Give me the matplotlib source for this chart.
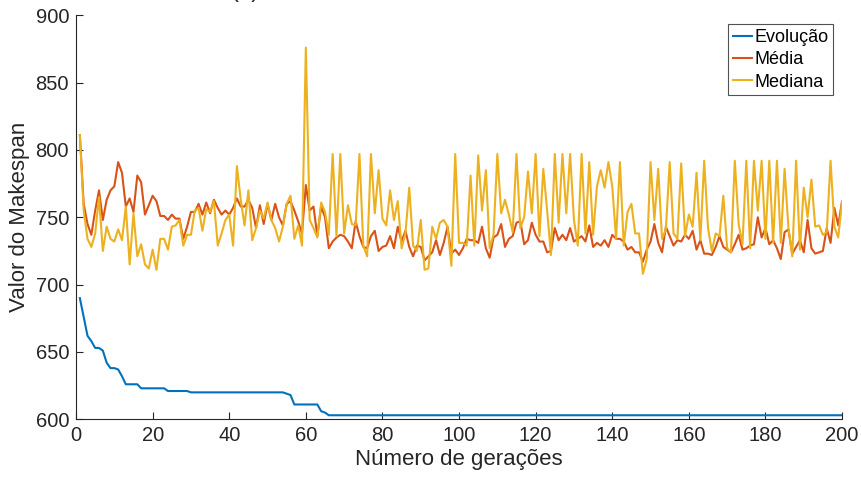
import matplotlib
matplotlib.use("Agg")
import matplotlib.pyplot as plt
import numpy as np

plt.rcParams['font.family'] = ['Liberation Sans', 'DejaVu Sans']

# Generations 1..200
geracoes = list(range(1, 201))

# Best makespan found so far
evolucao = [
    690, 676, 662, 658, 653, 653, 651, 642, 638, 638,
    637, 632, 626, 626, 626, 626, 623, 623, 623, 623,
    623, 623, 623, 621, 621, 621, 621, 621, 621, 620,
    620, 620, 620, 620, 620, 620, 620, 620, 620, 620,
    620, 620, 620, 620, 620, 620, 620, 620, 620, 620,
    620, 620, 620, 620, 619, 618, 611, 611, 611, 611,
    611, 611, 611, 606, 605, 603, 603, 603, 603, 603,
    603, 603, 603, 603, 603, 603, 603, 603, 603, 603,
    603, 603, 603, 603, 603, 603, 603, 603, 603, 603,
    603, 603, 603, 603, 603, 603, 603, 603, 603, 603,
    603, 603, 603, 603, 603, 603, 603, 603, 603, 603,
    603, 603, 603, 603, 603, 603, 603, 603, 603, 603,
    603, 603, 603, 603, 603, 603, 603, 603, 603, 603,
    603, 603, 603, 603, 603, 603, 603, 603, 603, 603,
    603, 603, 603, 603, 603, 603, 603, 603, 603, 603,
    603, 603, 603, 603, 603, 603, 603, 603, 603, 603,
    603, 603, 603, 603, 603, 603, 603, 603, 603, 603,
    603, 603, 603, 603, 603, 603, 603, 603, 603, 603,
    603, 603, 603, 603, 603, 603, 603, 603, 603, 603,
    603, 603, 603, 603, 603, 603, 603, 603, 603, 603,
]

# Mean makespan of the population
media = [
    811, 760, 745, 737, 755, 770, 748, 763, 770, 773,
    791, 783, 758, 764, 754, 781, 776, 752, 759, 766,
    762, 751, 751, 748, 752, 749, 749, 734, 743, 754,
    754, 760, 752, 761, 753, 763, 757, 752, 755, 752,
    757, 764, 758, 758, 763, 757, 742, 759, 745, 760,
    748, 760, 750, 744, 760, 762, 755, 747, 738, 774,
    755, 758, 736, 758, 750, 727, 732, 735, 737, 736,
    732, 727, 747, 736, 728, 727, 736, 740, 725, 728,
    729, 736, 727, 743, 732, 740, 728, 721, 729, 728,
    718, 721, 724, 733, 722, 731, 743, 723, 726, 722,
    727, 734, 733, 733, 731, 743, 727, 720, 735, 737,
    745, 728, 734, 736, 746, 747, 730, 733, 746, 737,
    732, 732, 724, 725, 742, 733, 737, 733, 742, 732,
    734, 736, 732, 744, 728, 731, 729, 733, 728, 737,
    734, 734, 732, 726, 728, 724, 724, 717, 726, 732,
    745, 731, 724, 743, 736, 729, 733, 732, 737, 734,
    740, 726, 733, 723, 723, 722, 728, 736, 728, 726,
    724, 730, 737, 726, 727, 729, 730, 750, 735, 742,
    730, 733, 727, 719, 739, 741, 723, 728, 733, 724,
    748, 727, 723, 724, 725, 742, 731, 757, 744, 762,
]

# Median makespan of the population
mediana = [
    811, 755, 734, 728, 738, 765, 725, 743, 734, 732,
    741, 733, 758, 715, 753, 721, 730, 715, 712, 726,
    711, 734, 734, 726, 743, 744, 748, 729, 737, 737,
    755, 757, 740, 756, 754, 762, 729, 738, 748, 752,
    729, 788, 763, 744, 770, 733, 742, 755, 749, 761,
    748, 742, 732, 743, 760, 766, 734, 744, 729, 876,
    748, 742, 735, 761, 754, 737, 797, 736, 797, 738,
    759, 745, 744, 797, 729, 721, 797, 753, 785, 749,
    744, 770, 748, 762, 727, 738, 772, 729, 725, 748,
    711, 712, 743, 734, 746, 748, 743, 714, 797, 731,
    731, 729, 781, 729, 796, 755, 785, 727, 737, 797,
    753, 763, 752, 739, 797, 742, 750, 784, 753, 797,
    736, 786, 755, 722, 797, 746, 797, 753, 797, 748,
    729, 797, 738, 791, 737, 773, 785, 772, 791, 773,
    734, 791, 729, 754, 760, 738, 738, 708, 719, 791,
    748, 786, 734, 741, 791, 738, 734, 790, 736, 752,
    743, 783, 733, 792, 742, 725, 738, 736, 766, 727,
    724, 792, 745, 730, 792, 727, 792, 755, 792, 734,
    792, 731, 792, 731, 786, 742, 721, 792, 726, 772,
    750, 778, 743, 744, 737, 739, 792, 743, 735, 762,
]

rotulos = ['Evolução', 'Média', 'Mediana']
cores = ['#0072BD', '#D95319', '#EDB120']

eixo_cor = '#262626'

fig = plt.figure(figsize=(8.61, 4.83), dpi=100)
ax = fig.add_axes([0.0883, 0.1319, 0.8897, 0.8364])

for serie, rotulo, cor in zip([evolucao, media, mediana], rotulos, cores):
    ax.plot(geracoes, serie, color=cor, lw=1.5, label=rotulo)

ax.set_xlim(0, 200)
ax.set_ylim(600, 900)
ax.set_xticks(np.arange(0, 201, 20))
ax.set_yticks(np.arange(600, 901, 50))

for lado in ['top', 'right']:
    ax.spines[lado].set_visible(False)
for lado in ['left', 'bottom']:
    ax.spines[lado].set_color(eixo_cor)
    ax.spines[lado].set_linewidth(0.8)

ax.tick_params(direction='in', length=5, width=0.8, colors=eixo_cor,
               labelsize=14.5, pad=5)

ax.set_xlabel('Número de gerações', fontsize=16, color=eixo_cor, labelpad=3)
ax.set_ylabel('Valor do Makespan', fontsize=16, color=eixo_cor, labelpad=4)

leg = ax.legend(loc='upper right', fontsize=13, fancybox=False,
                frameon=True, edgecolor=eixo_cor, handlelength=1.05,
                handletextpad=0.15, labelspacing=0.3, borderpad=0.25,
                borderaxespad=0.5)
leg.get_frame().set_linewidth(0.8)

# Panel tag sitting just above the top edge
fig.text(245 / 861, 1 + 2.5 / 483, '(a)', fontsize=17, color=eixo_cor,
         ha='center', va='baseline')

fig.savefig('out.png', dpi=100)
